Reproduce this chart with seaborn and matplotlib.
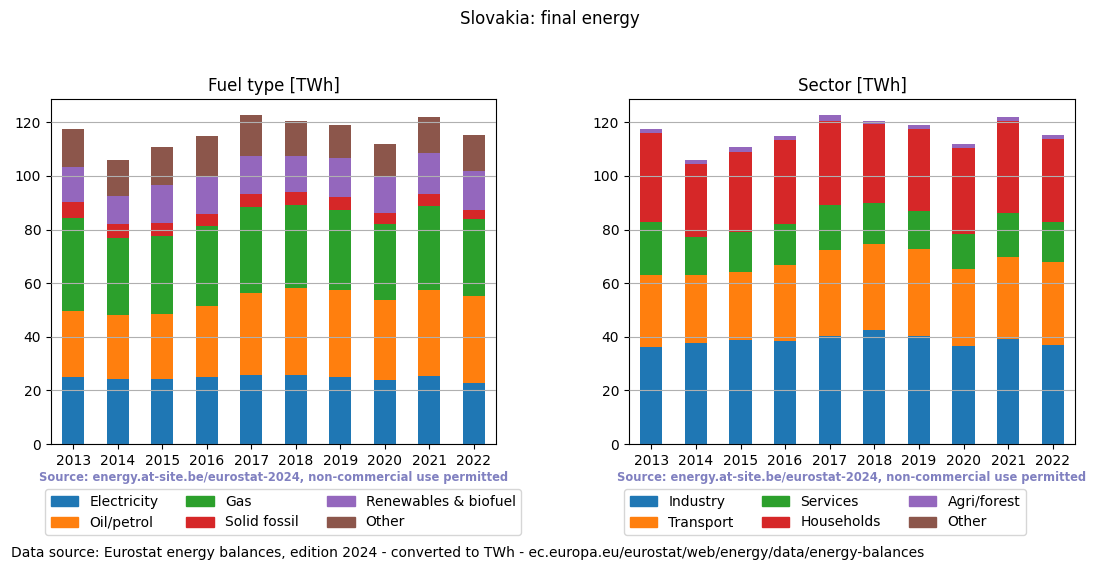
import numpy as np
import pandas as pd
import matplotlib
matplotlib.use("Agg")
import matplotlib.pyplot as plt
from matplotlib.patches import Patch
import seaborn as sns

years = ["2013", "2014", "2015", "2016", "2017", "2018", "2019", "2020", "2021", "2022"]

# Fuel type [TWh]
fuel_labels = ["Electricity", "Oil/petrol", "Gas", "Solid fossil", "Renewables & biofuel", "Other"]
electricity = [25.0, 24.2, 24.2, 25.0, 25.7, 25.7, 25.0, 23.9, 25.3, 22.7]
oil_petrol = [24.6, 23.9, 24.2, 26.4, 30.6, 32.4, 32.4, 29.8, 32.1, 32.5]
gas = [34.6, 28.7, 29.1, 29.8, 32.0, 31.0, 29.8, 28.3, 31.3, 28.7]
solid_fossil = [6.0, 5.2, 4.9, 4.5, 4.9, 4.8, 4.8, 4.1, 4.5, 3.3]
renewables = [13.0, 10.4, 14.1, 14.2, 14.1, 13.4, 14.6, 13.8, 15.2, 14.5]
fuel_other = [14.2, 13.4, 14.2, 14.9, 15.3, 13.4, 12.3, 11.9, 13.8, 13.5]

# Sector [TWh]
sector_labels = ["Industry", "Transport", "Services", "Households", "Agri/forest", "Other"]
industry = [36.1, 37.6, 38.8, 38.4, 40.2, 42.5, 40.2, 36.5, 39.1, 36.9]
transport = [26.9, 25.4, 25.3, 28.3, 32.1, 32.0, 32.5, 28.7, 30.6, 30.9]
services = [19.7, 14.1, 14.9, 15.3, 16.8, 15.3, 14.1, 13.1, 16.4, 14.9]
households = [33.2, 27.2, 29.8, 31.3, 31.6, 29.5, 30.6, 32.0, 34.6, 31.0]
agri_forest = [1.5, 1.5, 1.9, 1.5, 1.9, 1.4, 1.5, 1.5, 1.5, 1.5]
sector_other = [0.0, 0.0, 0.0, 0.0, 0.0, 0.0, 0.0, 0.0, 0.0, 0.0]

colors = ["#1f77b4", "#ff7f0e", "#2ca02c", "#d62728", "#9467bd", "#8c564b"]

fig = plt.figure(figsize=(11, 5.72), dpi=100)
ax1 = fig.add_axes([51 / 1100, 128 / 572, 445 / 1100, 345 / 572])
ax2 = fig.add_axes([629 / 1100, 128 / 572, 446 / 1100, 345 / 572])


def stacked(ax, series, labels, title):
    df = pd.DataFrame(np.array(series).T, columns=labels)
    cum = df[labels].cumsum(axis=1)
    cum["year"] = years
    for i in reversed(range(len(labels))):
        sns.barplot(data=cum, x="year", y=labels[i], ax=ax, color=colors[i],
                    saturation=1, width=0.5, errorbar=None, linewidth=0)
    ax.set_xlabel("")
    ax.set_ylabel("")
    ax.set_title(title, fontsize=12)
    ax.grid(axis="y", color="#b0b0b0", linewidth=0.8)
    ax.set_axisbelow(False)
    ax.set_xlim(-0.5, 9.5)
    ax.tick_params(axis="x", rotation=0)


stacked(ax1, [electricity, oil_petrol, gas, solid_fossil, renewables, fuel_other],
        fuel_labels, "Fuel type [TWh]")
stacked(ax2, [industry, transport, services, households, agri_forest, sector_other],
        sector_labels, "Sector [TWh]")

fig.suptitle("Slovakia: final energy", fontsize=12, y=1 - 19 / 572, va="center")

src = "Source: energy.at-site.be/eurostat-2024, non-commercial use permitted"
for ax in (ax1, ax2):
    ax.text(0.5, -0.098, src, transform=ax.transAxes, ha="center", va="center",
            fontsize=8.3, fontweight="bold", color="#8080c0")

h1 = [Patch(color=c, label=l) for c, l in zip(colors, fuel_labels)]
h2 = [Patch(color=c, label=l) for c, l in zip(colors, sector_labels)]
fig.legend(handles=h1, loc="upper left", bbox_to_anchor=(45 / 1100, 1 - 489 / 572),
           ncol=3, borderaxespad=0, fontsize=10)
fig.legend(handles=h2, loc="upper left", bbox_to_anchor=(624 / 1100, 1 - 489 / 572),
           ncol=3, borderaxespad=0, fontsize=10)

fig.text(11 / 1100, 1 - 553 / 572,
         "Data source: Eurostat energy balances, edition 2024 - converted to TWh - ec.europa.eu/eurostat/web/energy/data/energy-balances",
         ha="left", va="center", fontsize=10)

fig.savefig("out.png", dpi=100)
